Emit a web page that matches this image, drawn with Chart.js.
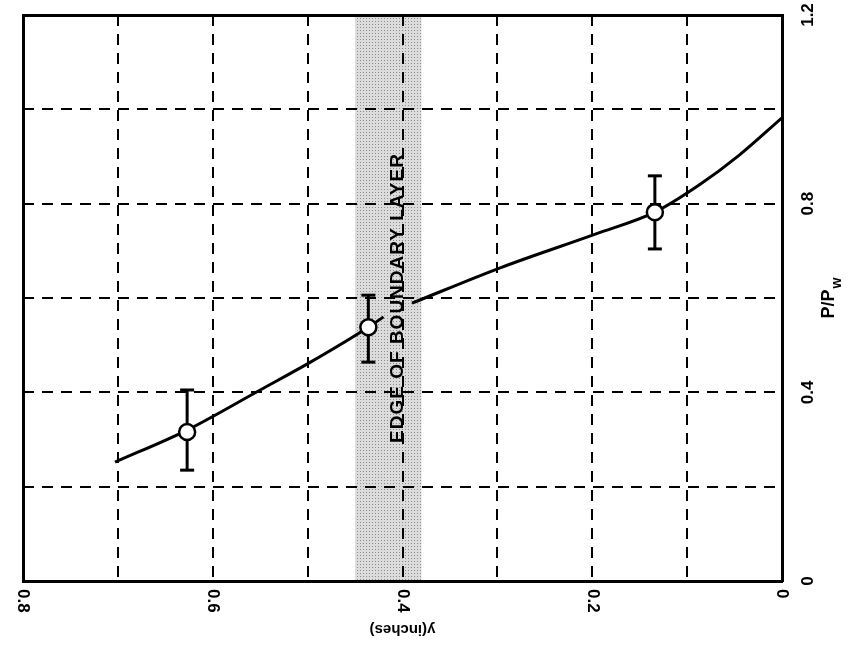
<!DOCTYPE html>
<html>
<head>
<meta charset="utf-8">
<script src="https://cdn.jsdelivr.net/npm/chart.js@4/dist/chart.umd.min.js"></script>
<style>
  html, body { margin: 0; padding: 0; background: #fff; }
  #wrap { width: 852px; height: 656px; }
</style>
</head>
<body>
<div id="wrap"><canvas id="chart"></canvas></div>
<script>
// y (inches) runs right-to-left along the bottom, P/Pw up the right side
const curveLeftY = [0.703, 0.627, 0.55, 0.497, 0.436, 0.42];
const curveLeftP = [0.252, 0.32, 0.405, 0.464, 0.538, 0.56];
const curveRightY = [0.39, 0.297, 0.196, 0.134, 0.087, 0.045, 0.0];
const curveRightP = [0.589, 0.664, 0.736, 0.782, 0.84, 0.903, 0.982];

const pointY = [0.627, 0.436, 0.134];
const pointP = [0.316, 0.538, 0.782];
const errLow = [0.235, 0.464, 0.704];
const errHigh = [0.405, 0.606, 0.859];

const bandFrom = 0.45;
const bandTo = 0.38;

const xTickValues = [0.8, 0.6, 0.4, 0.2, 0];
const xTickLabels = ['0.8', '0.6', '0.4', '0.2', '0'];
const yTickValues = [0, 0.4, 0.8, 1.2];
const yTickLabels = ['0', '0.4', '0.8', '1.2'];

const FONT = '"Liberation Sans", Arial, sans-serif';

function toXY(xs, ys) {
    return xs.map((x, i) => ({ x: x, y: ys[i] }));
}

const errorSets = pointY.map((y, i) => ({
    type: 'scatter',
    data: [{ x: y, y: errLow[i] }, { x: y, y: errHigh[i] }],
    showLine: true,
    borderColor: '#000',
    borderWidth: 3,
    pointStyle: 'line',
    pointRadius: 7,
    pointBorderWidth: 3,
    pointBorderColor: '#000',
    order: 2
}));

// stipple pattern for the boundary layer band
function stipple() {
    const c = document.createElement('canvas');
    c.width = 3; c.height = 3;
    const g = c.getContext('2d');
    g.fillStyle = '#dcdcdc';
    g.fillRect(0, 0, 3, 3);
    g.fillStyle = '#8c8c8c';
    g.fillRect(0, 0, 1, 1);
    return g.createPattern(c, 'repeat');
}

const backdrop = {
    id: 'backdrop',
    beforeDraw(chart) {
        const { ctx, chartArea, scales } = chart;
        ctx.save();
        ctx.fillStyle = '#fff';
        ctx.fillRect(0, 0, chart.width, chart.height);
        const x1 = scales.x.getPixelForValue(bandFrom);
        const x2 = scales.x.getPixelForValue(bandTo);
        ctx.fillStyle = stipple();
        ctx.fillRect(x1, chartArea.top, x2 - x1, chartArea.bottom - chartArea.top);
        ctx.restore();
    }
};

const labels = {
    id: 'labels',
    afterDraw(chart) {
        const { ctx, chartArea, scales } = chart;
        ctx.save();
        ctx.fillStyle = '#000';
        ctx.font = 'bold 17px ' + FONT;
        ctx.textBaseline = 'middle';

        // bottom tick labels, rotated to read top to bottom
        xTickValues.forEach((v, i) => {
            const px = scales.x.getPixelForValue(v);
            ctx.save();
            ctx.translate(px, chartArea.bottom + 8);
            ctx.rotate(Math.PI / 2);
            ctx.textAlign = 'left';
            ctx.fillText(xTickLabels[i], 0, 0);
            ctx.restore();
        });

        // right tick labels, read bottom to top
        yTickValues.forEach((v, i) => {
            const py = scales.y.getPixelForValue(v);
            ctx.save();
            ctx.translate(chartArea.right + 26, py);
            ctx.rotate(-Math.PI / 2);
            ctx.textAlign = 'center';
            ctx.fillText(yTickLabels[i], 0, 0);
            ctx.restore();
        });

        // P/Pw axis title
        ctx.save();
        ctx.translate(chartArea.right + 47, scales.y.getPixelForValue(0.6));
        ctx.rotate(-Math.PI / 2);
        ctx.textAlign = 'center';
        ctx.font = 'bold 18px ' + FONT;
        ctx.fillText('P/P', -6, 0);
        const w = ctx.measureText('P/P').width;
        ctx.font = 'bold 14px ' + FONT;
        ctx.textAlign = 'left';
        ctx.fillText('w', w / 2 - 5, 8);
        ctx.restore();

        // y(inches) title, upside down
        ctx.save();
        ctx.translate(scales.x.getPixelForValue(0.4), chartArea.bottom + 48);
        ctx.rotate(Math.PI);
        ctx.textAlign = 'center';
        ctx.font = 'bold 15px ' + FONT;
        ctx.fillText('y(inches)', 0, 0);
        ctx.restore();

        // band annotation
        ctx.save();
        ctx.translate(scales.x.getPixelForValue(0.405), scales.y.getPixelForValue(0.6));
        ctx.rotate(-Math.PI / 2);
        ctx.textAlign = 'center';
        ctx.font = 'bold 19px ' + FONT;
        ctx.letterSpacing = '1px';
        ctx.fillText('EDGE OF BOUNDARY LAYER', 0, 0);
        ctx.restore();

        ctx.restore();
    }
};

const gridDash = [11, 8];

new Chart(document.getElementById('chart'), {
    type: 'scatter',
    data: {
        datasets: [
            {
                data: toXY(curveLeftY, curveLeftP),
                showLine: true,
                borderColor: '#000',
                borderWidth: 3,
                pointRadius: 0,
                cubicInterpolationMode: 'monotone',
                order: 3
            },
            {
                data: toXY(curveRightY, curveRightP),
                showLine: true,
                borderColor: '#000',
                borderWidth: 3,
                pointRadius: 0,
                cubicInterpolationMode: 'monotone',
                order: 3
            },
            ...errorSets,
            {
                data: toXY(pointY, pointP),
                showLine: false,
                pointRadius: 8,
                pointBackgroundColor: '#fff',
                pointBorderColor: '#000',
                pointBorderWidth: 2.5,
                order: 1
            }
        ]
    },
    options: {
        responsive: true,
        maintainAspectRatio: false,
        animation: false,
        layout: { padding: { left: 15, right: 70, top: 7, bottom: 75 } },
        plugins: {
            legend: { display: false },
            tooltip: { enabled: false }
        },
        scales: {
            x: {
                type: 'linear',
                position: 'bottom',
                reverse: true,
                min: 0,
                max: 0.8,
                ticks: { display: false, stepSize: 0.1 },
                grid: { color: '#000', lineWidth: 2, drawTicks: false },
                border: { display: true, color: '#000', width: 3, dash: gridDash }
            },
            y: {
                type: 'linear',
                position: 'right',
                min: 0,
                max: 1.2,
                ticks: { display: false, stepSize: 0.2 },
                grid: { color: '#000', lineWidth: 2, drawTicks: false },
                border: { display: true, color: '#000', width: 3, dash: gridDash }
            },
            xTop: {
                type: 'linear',
                position: 'top',
                min: 0,
                max: 0.8,
                ticks: { display: false },
                grid: { display: false },
                border: { display: true, color: '#000', width: 3 }
            },
            yLeft: {
                type: 'linear',
                position: 'left',
                min: 0,
                max: 1.2,
                ticks: { display: false },
                grid: { display: false },
                border: { display: true, color: '#000', width: 3 }
            }
        }
    },
    plugins: [backdrop, labels]
});
</script>
</body>
</html>
